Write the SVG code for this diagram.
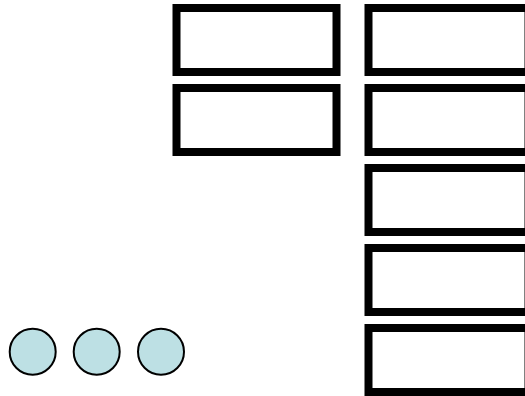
<svg xmlns="http://www.w3.org/2000/svg" width="525" height="396" viewBox="0 0 525 396">
<style>
.box{fill:#ffffff;stroke:#000000;stroke-width:8}
.dot{fill:#bde0e4;stroke:#000000;stroke-width:2}
</style>
<rect width="525" height="396" fill="#ffffff"/>
<g id="box-l1"><rect class="box" x="176.5" y="8" width="160" height="64"/></g>
<g id="box-l2"><rect class="box" x="176.5" y="88" width="160" height="64"/></g>
<g id="box-r1"><rect class="box" x="368.5" y="8" width="160" height="64"/></g>
<g id="box-r2"><rect class="box" x="368.5" y="88" width="160" height="64"/></g>
<g id="box-r3"><rect class="box" x="368.5" y="168" width="160" height="64"/></g>
<g id="box-r4"><rect class="box" x="368.5" y="248" width="160" height="64"/></g>
<g id="box-r5"><rect class="box" x="368.5" y="328" width="160" height="64"/></g>
<g id="dot-1"><circle class="dot" cx="32.7" cy="351.7" r="23"/></g>
<g id="dot-2"><circle class="dot" cx="96.7" cy="351.7" r="23"/></g>
<g id="dot-3"><circle class="dot" cx="161" cy="351.7" r="23"/></g>
<g id="connectors"></g>
</svg>
